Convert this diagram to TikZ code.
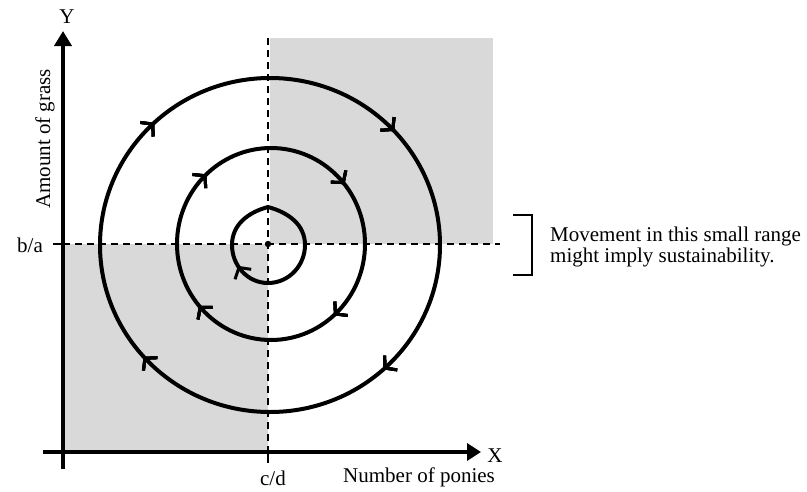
\documentclass[tikz,border=0pt]{standalone}
\usepackage{fontspec}
\setmainfont{Liberation Serif}
\usetikzlibrary{arrows.meta,decorations.markings}
\definecolor{quadgray}{RGB}{217,217,217}
\tikzset{
  axisline/.style={line width=4pt},
  guide/.style={line width=1.8pt, dash pattern=on 7pt off 5pt},
  orbit/.style={line width=4pt},
  lbl/.style={font=\fontsize{21}{22}\selectfont, inner sep=0pt},
  barb/.style={postaction={decorate}, decoration={markings,
    mark=at position #1 with {\arrow[line width=3pt]{Straight Barb[length=8pt,width=19pt]}}}},
}
\begin{document}
\begin{tikzpicture}[x=1pt,y=-1pt]
\useasboundingbox (0,0) rectangle (807,491);
% shaded quadrants
\fill[quadgray] (270,38) rectangle (493,244);
\fill[quadgray] (65,244) rectangle (268,451);
% coordinates
\coordinate (ybot) at (63,469);
\coordinate (ytop) at (63,31);
\coordinate (xleft) at (43,452);
\coordinate (xright) at (481,452);
\coordinate (vtop) at (268,38);
\coordinate (vbot) at (268,463);
\coordinate (hleft) at (53,244);
\coordinate (hright) at (500,244);
\coordinate (ctr) at (268,244);
% guides
\draw[guide] (vtop) -- (268,452);
\draw[line width=1.8pt] (268,452) -- (vbot);
\draw[guide] (63,244) -- (hright);
\draw[line width=1.8pt] (hleft) -- (63,244);
% axes
\draw[axisline, -{Triangle[length=15pt,width=17pt]}] (ybot) -- (ytop);
\draw[axisline, -{Triangle[length=14pt,width=17pt]}] (xleft) -- (xright);
% orbits
\draw[orbit, barb=0.133, barb=0.384, barb=0.63, barb=0.881] (270,245) ellipse [x radius=170, y radius=167];
\draw[orbit, barb=0.134, barb=0.388, barb=0.63, barb=0.892] (271,244) ellipse [x radius=94, y radius=96];
\draw[orbit, barb=0.66] (268,207) to[out=-15,in=90] (305,245) to[out=-90,in=0] (268,283)
   to[out=180,in=-90] (232,245) to[out=90,in=195] cycle;
\fill (ctr) circle (3.2);
% labels
\node[lbl, anchor=base] (ylab) at (67,23) {Y};
\node[lbl, anchor=base] (xlab) at (495,462) {X};
\node[lbl, anchor=base] (ba) at (30,252) {b/a};
\node[lbl, anchor=base] (cd) at (273,485) {c/d};
\node[lbl, anchor=base west] (np) at (343,482) {Number of ponies};
\node[lbl, anchor=base, rotate=90] (ag) at (50,139) {Amount of grass};
% bracket and note
\coordinate (bt) at (513,215);
\coordinate (bb) at (513,275);
\draw[line width=2pt] (bt) -- (532,215) -- (532,275) -- (bb);
\node[lbl, anchor=base west] (m1) at (550,241) {Movement in this small range};
\node[lbl, anchor=base west] (m2) at (550,262) {might imply sustainability.};
\end{tikzpicture}
\end{document}
